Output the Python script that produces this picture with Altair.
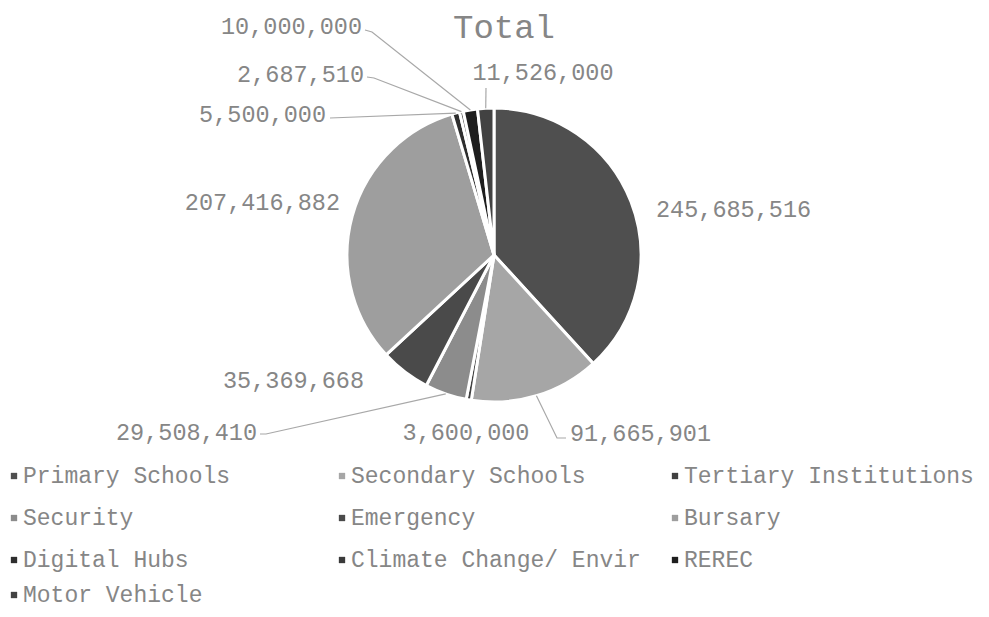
import math
import pandas as pd
import altair as alt

# ---- data ----
categories = ["Primary Schools", "Secondary Schools", "Tertiary Institutions",
              "Security", "Emergency", "Bursary", "Digital Hubs",
              "Climate Change/ Envir", "REREC", "Motor Vehicle"]
values = [245685516, 91665901, 3600000, 29508410, 35369668,
          207416882, 5500000, 2687510, 10000000, 11526000]
colors = ["#4f4f4f", "#a6a6a6", "#404040", "#8c8c8c", "#4a4a4a",
          "#9e9e9e", "#2e2e2e", "#3a3a3a", "#1e1e1e", "#424242"]

# ---- layout (pixels inside the plot area) ----
W, H = 972, 601
CX, CY, R = 486, 247, 147
FONT = "Liberation Mono"
TXT = "#868686"

# label anchor (x, y, align) and leader elbows for each slice
label_layout = {
    "Primary Schools":       (648, 202, "left",   []),
    "Secondary Schools":     (562, 426, "left",   [(558, 430), (549, 430)]),
    "Tertiary Institutions": (458, 425, "center", []),
    "Security":              (249, 425, "right",  [(252, 426), (258, 426)]),
    "Emergency":             (356, 373, "right",  []),
    "Bursary":               (332, 195, "right",  []),
    "Digital Hubs":          (318, 107, "right",  [(322, 110)]),
    "Climate Change/ Envir": (356, 67,  "right",  [(359, 69), (366, 70)]),
    "REREC":                 (354, 19,  "right",  [(357, 22), (364, 24)]),
    "Motor Vehicle":         (535, 65,  "center", [(478, 80)]),
}

total = float(sum(values))
cum = 0.0
mids = []
for v in values:
    start = cum
    cum += v
    mids.append((start + cum) / 2 / total * 2 * math.pi)

pie_df = pd.DataFrame({"category": categories, "value": values,
                       "idx": list(range(len(values)))})

lab_rows, line_rows = [], []
for c, v, a in zip(categories, values, mids):
    lx, ly, al, elbows = label_layout[c]
    lab_rows.append({"category": c, "label": f"{v:,}", "x": lx, "y": ly, "align": al})
    if elbows:
        pts = list(elbows) + [(CX + R * math.sin(a), CY - R * math.cos(a))]
        for k, (px, py) in enumerate(pts):
            line_rows.append({"category": c, "o": k, "x": px, "y": py})
lab_df = pd.DataFrame(lab_rows)
line_df = pd.DataFrame(line_rows)

leg_cols_x = [6, 334, 667]
leg_rows_y = [468, 510, 552, 587]
leg_df = pd.DataFrame({
    "category": categories,
    "x": [leg_cols_x[i % 3] for i in range(len(categories))],
    "y": [leg_rows_y[i // 3] for i in range(len(categories))],
})
leg_df["tx"] = leg_df["x"] + 9

title_df = pd.DataFrame({"t": ["Total"], "x": [496], "y": [20]})

xs = alt.Scale(domain=[0, W], nice=False, zero=False)
ys = alt.Scale(domain=[0, H], nice=False, zero=False, reverse=True)
cscale = alt.Scale(domain=categories, range=colors)

pie = alt.Chart(pie_df).mark_arc(outerRadius=R, stroke="white", strokeWidth=3).encode(
    theta=alt.Theta("value:Q", stack=True),
    color=alt.Color("category:N", scale=cscale, legend=None),
    order=alt.Order("idx:Q"),
    x=alt.value(CX), y=alt.value(CY),
)

lines = alt.Chart(line_df).mark_line(color="#a8a8a8", strokeWidth=1.2).encode(
    x=alt.X("x:Q", scale=xs, axis=None),
    y=alt.Y("y:Q", scale=ys, axis=None),
    detail="category:N",
    order="o:Q",
)

def label_layer(align):
    return alt.Chart(lab_df[lab_df["align"] == align]).mark_text(
        font=FONT, fontSize=23.5, color=TXT, align=align, baseline="middle"
    ).encode(
        x=alt.X("x:Q", scale=xs, axis=None),
        y=alt.Y("y:Q", scale=ys, axis=None),
        text="label:N",
    )

title = alt.Chart(title_df).mark_text(
    font=FONT, fontSize=34, color=TXT, align="center", baseline="middle"
).encode(
    x=alt.X("x:Q", scale=xs, axis=None),
    y=alt.Y("y:Q", scale=ys, axis=None),
    text="t:N",
)

leg_sq = alt.Chart(leg_df).mark_point(shape="square", filled=True, size=40, opacity=1).encode(
    x=alt.X("x:Q", scale=xs, axis=None),
    y=alt.Y("y:Q", scale=ys, axis=None),
    color=alt.Color("category:N", scale=cscale, legend=None),
)
leg_tx = alt.Chart(leg_df).mark_text(
    font=FONT, fontSize=23, color=TXT, align="left", baseline="middle"
).encode(
    x=alt.X("tx:Q", scale=xs, axis=None),
    y=alt.Y("y:Q", scale=ys, axis=None),
    text="category:N",
)

chart = alt.layer(
    pie, lines, label_layer("left"), label_layer("right"), label_layer("center"),
    title, leg_sq, leg_tx
).properties(
    width=W, height=H, autosize=alt.AutoSizeParams(type="none"), padding=0
).configure_view(stroke=None)

chart.save("out.html", embed_options={"renderer": "svg", "actions": False})
